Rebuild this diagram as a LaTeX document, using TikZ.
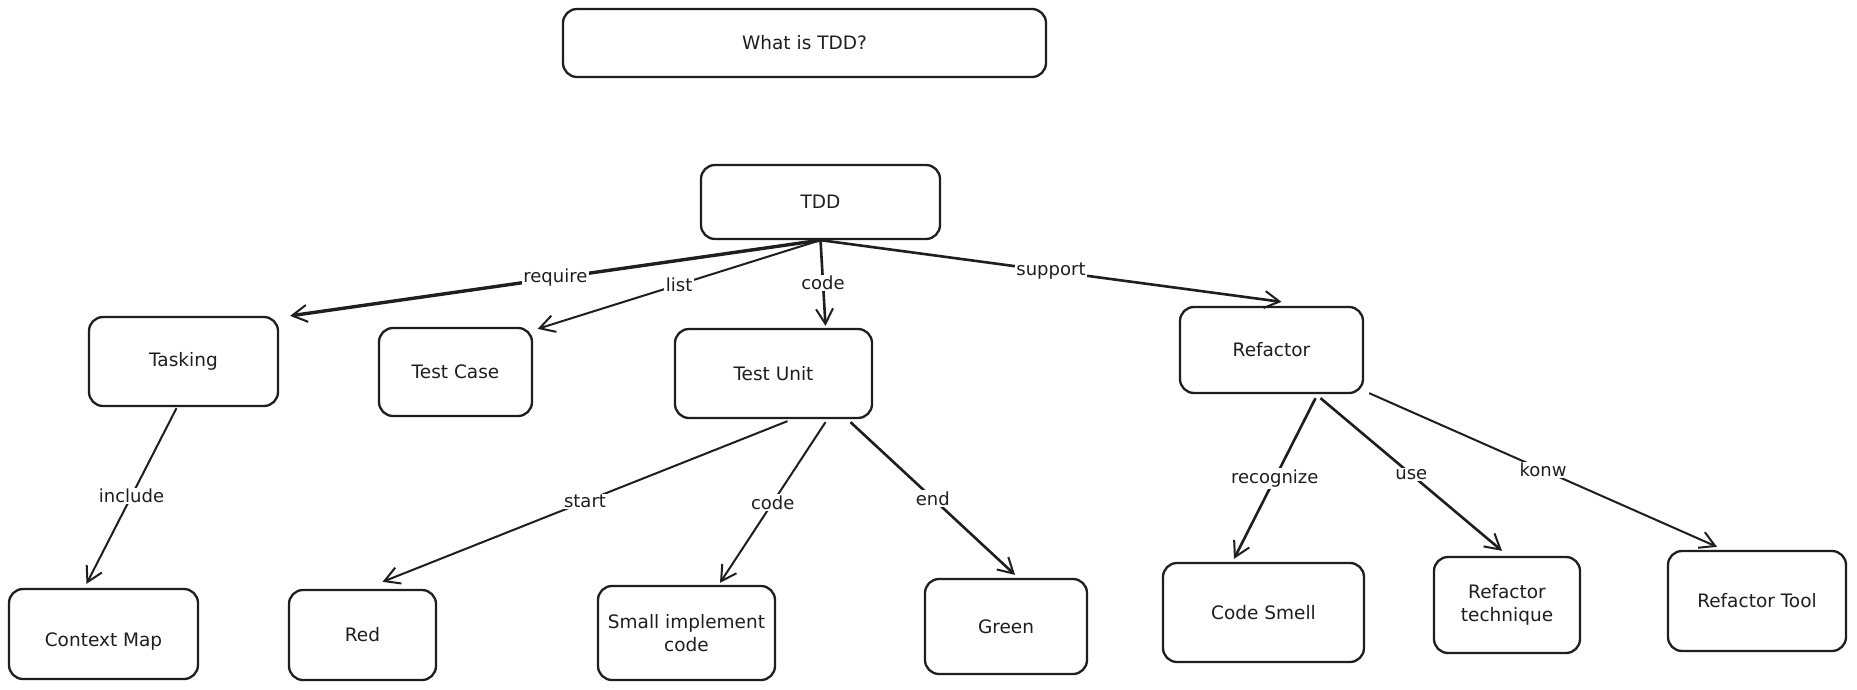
\documentclass[tikz,border=0pt]{standalone}
\usepackage{fontspec}
\setmainfont{DejaVu Sans}
\usetikzlibrary{arrows.meta}
\definecolor{ink}{HTML}{1E1E1E}
\begin{document}
\begin{tikzpicture}[x=1pt,y=-1pt,
  box/.style={draw=ink, line width=2.3pt, rounded corners=14pt, align=center,
    font=\fontsize{18.5}{23}\selectfont, text=ink, inner sep=0pt},
  link/.style={draw=ink, line width=2pt,
    -{Straight Barb[length=15pt,width=17pt,line width=2pt]}},
  lbl/.style={fill=white, font=\fontsize{18}{22}\selectfont, text=ink,
    inner sep=1.5pt, pos=0.5}]
\fill[white] (0,0) rectangle (1857,690);
\useasboundingbox (0,0) rectangle (1857,690);

% title
\node[box, minimum width=483pt, minimum height=68pt] (what) at (804.5,43) {What is TDD?};

% root and first level
\node[box, minimum width=239pt, minimum height=74pt] (tdd)   at (820.5,202)   {TDD};
\node[box, minimum width=189pt, minimum height=89pt] (task)  at (183.5,361.5) {Tasking};
\node[box, minimum width=153pt, minimum height=88pt] (tc)    at (455.5,372)   {Test Case};
\node[box, minimum width=197pt, minimum height=89pt] (tu)    at (773.5,373.5) {Test Unit};
\node[box, minimum width=183pt, minimum height=86pt] (ref)   at (1271.5,350)  {Refactor};

% second level
\node[box, minimum width=189pt, minimum height=90pt] (ctx)   at (103.5,634)   {\raisebox{-8pt}[\height][\depth]{Context Map}};
\node[box, minimum width=147pt, minimum height=90pt] (red)   at (362.5,635)   {Red};
\node[box, minimum width=177pt, minimum height=94pt] (small) at (686.5,633)   {Small implement\\code};
\node[box, minimum width=162pt, minimum height=95pt] (green) at (1006,626.5)  {Green};
\node[box, minimum width=201pt, minimum height=99pt] (cs)    at (1263.5,612.5){Code Smell};
\node[box, minimum width=146pt, minimum height=96pt] (rt)    at (1507,605)    {Refactor\\technique};
\node[box, minimum width=178pt, minimum height=100pt] (tool) at (1757,601)    {Refactor Tool};

% connectors from TDD
\draw[link, line width=3.4pt] (tdd.south) -- node[lbl]{require} ([xshift=11pt]task.north east);
\draw[link] (tdd.south) -- node[lbl]{list} ([xshift=4.5pt,yshift=-2pt]tc.north east);
\draw[link, line width=2.6pt] (tdd.south) -- node[lbl]{code} ([xshift=52pt,yshift=2pt]tu.north);
\draw[link, line width=2.6pt] (tdd.south) -- node[lbl]{support} ([xshift=10pt,yshift=4pt]ref.north);

% Tasking
\draw[link] ([xshift=-7pt,yshift=-1pt]task.south) -- node[lbl]{include} ([xshift=-17pt,yshift=4pt]ctx.north);

% Test Unit
\draw[link] ([xshift=14pt,yshift=-2pt]tu.south) -- node[lbl]{start} ([xshift=20pt,yshift=7pt]red.north);
\draw[link] ([xshift=52pt,yshift=-3pt]tu.south) -- node[lbl]{code} ([xshift=33.5pt,yshift=2pt]small.north);
\draw[link, line width=2.6pt] ([xshift=77pt,yshift=-3pt]tu.south) -- node[lbl]{end} ([xshift=9pt,yshift=3pt]green.north);

% Refactor
\draw[link, line width=2.6pt] ([xshift=44pt,yshift=-4pt]ref.south) -- node[lbl]{recognize} ([xshift=-29.5pt,yshift=3pt]cs.north);
\draw[link, line width=2.6pt] ([xshift=49pt,yshift=-4pt]ref.south) -- node[lbl]{use} ([xshift=-5pt,yshift=5pt]rt.north);
\draw[link] ([xshift=5pt,yshift=1pt]ref.south east) -- node[lbl]{konw} ([xshift=-40pt,yshift=3pt]tool.north);
\end{tikzpicture}
\end{document}
